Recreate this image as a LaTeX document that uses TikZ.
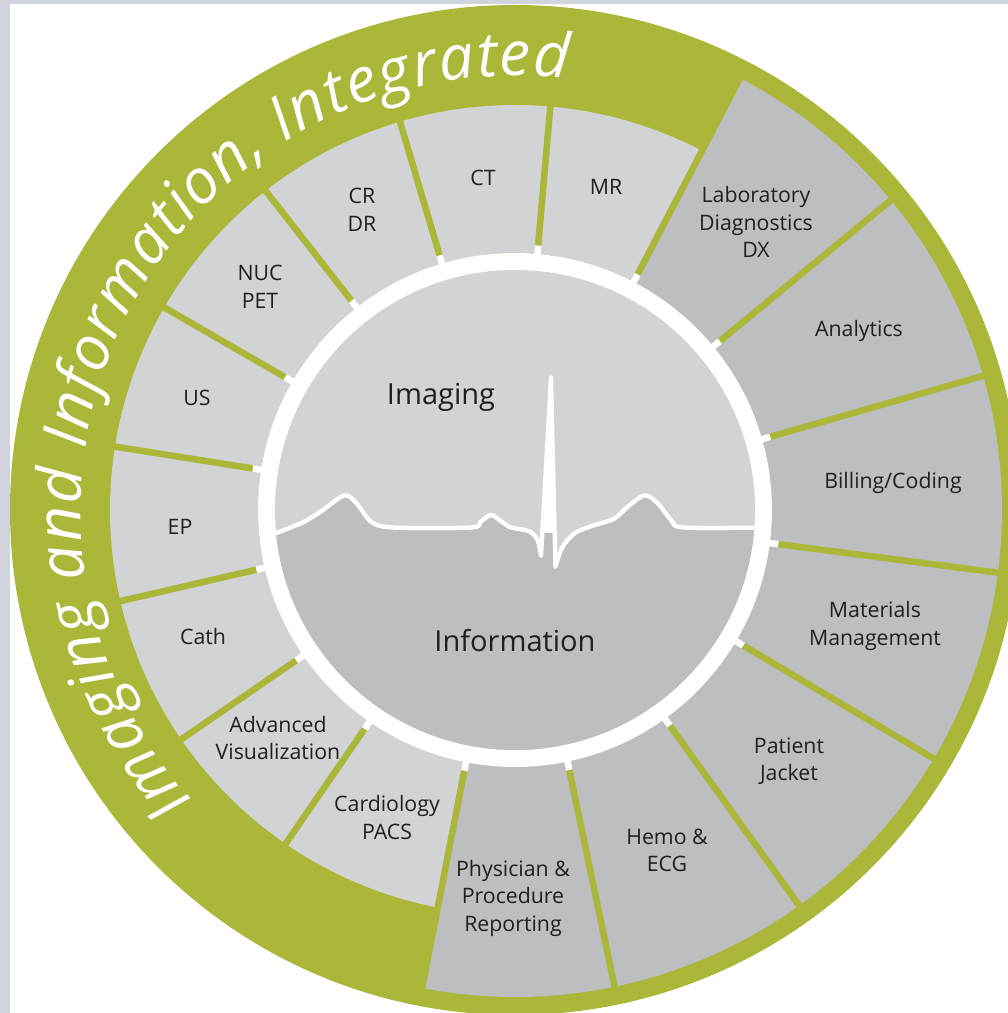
\documentclass[tikz,border=0pt]{standalone}
\usepackage{fontspec}
\setmainfont{Open Sans}
\usetikzlibrary{decorations.text}
\definecolor{grn}{RGB}{170,183,57}
\definecolor{lgray}{RGB}{209,211,212}
\definecolor{dgray}{RGB}{188,190,192}
\definecolor{strip}{RGB}{209,212,220}
\definecolor{txt}{RGB}{35,31,32}
\newcommand{\segm}[4]{\fill[#4] (#1:257) arc[start angle=#1, end angle=#2, radius=257] -- (#2:#3) arc[start angle=#2, end angle=#1, radius=#3] -- cycle;}
\begin{document}
\begin{tikzpicture}[x=1pt,y=1pt,
  lbl/.style={font=\fontsize{21.3}{27.5}\selectfont, text=txt, align=center, inner sep=0pt},
  big/.style={font=\fontsize{29}{34}\selectfont, text=txt, inner sep=0pt},
  divider/.style={grn, line width=6.5pt},
  tick/.style={white, line width=6.5pt},
  ecgline/.style={white, line width=4.3pt, line join=round}]
\useasboundingbox (0,0) rectangle (1008,1013);
\fill[strip] (0,0) rectangle (1008,1013);
\fill[white] (10,0) rectangle (1008,1009);
\begin{scope}
\clip (10,0) rectangle (1008,1009);
\begin{scope}[shift={(515,503)}]
\fill[grn] (0,0) circle[radius=505];
% imaging segments (light)
\segm{85}{106.5}{405}{lgray}
\segm{62.5}{85}{405}{lgray}
\segm{-124.5}{-101}{405}{lgray}
\segm{-145.5}{-124.5}{405}{lgray}
\segm{-167}{-145.5}{405}{lgray}
\segm{171}{193}{405}{lgray}
\segm{150}{171}{405}{lgray}
\segm{128}{150}{405}{lgray}
\segm{106.5}{128}{405}{lgray}
% information segments (dark)
\segm{39.5}{62.5}{487}{dgray}
\segm{16}{39.5}{487}{dgray}
\segm{-7.4}{16}{487}{dgray}
\segm{-30.7}{-7.4}{487}{dgray}
\segm{-54.3}{-30.7}{487}{dgray}
\segm{-78.2}{-54.3}{487}{dgray}
\segm{-101}{-78.2}{487}{dgray}
\foreach \a/\r in {106.5/408,85/408,62.5/490,39.5/490,16/490,-7.4/490,-30.7/490,-54.3/490,-78.2/490,-101/490,-124.5/408,-145.5/408,-167/408,171/408,150/408,128/408}{
  \draw[divider] (\a:265) -- (\a:\r);
  \draw[tick] (\a:252) -- (\a:265.5);
}
\fill[white] (0,0) circle[radius=257];
\fill[lgray] (0,0) circle[radius=240];
\path[decorate, decoration={text along path, text align={fit to path}, text color=white,
  text={|\itshape\fontsize{62}{66}\selectfont|Imaging and Information, Integrated}}]
  (222:434) arc[start angle=222, end angle=83, radius=434];
\end{scope}
\end{scope}
% ECG dividing the inner circle
\begin{scope}
\clip (515,503) circle[radius=240];
\fill[dgray] plot[smooth, tension=0.5] coordinates {(276.8,480.1) (303.6,491) (321,501.6) (344.6,517.6) (357,509) (371.4,491) (392.9,485.5) (471.4,485.5) (480.4,491) (491,498) (500,492.6) (510.7,485.5) (528.6,482) (537.5,473) (541,457)}
  -- (542.6,485.5) -- (554.5,485.5) -- (555.4,446.2)
  -- plot[smooth, tension=0.5] coordinates {(555.4,446.2) (562.5,466) (575,480) (592.9,487.3) (614.3,494.4) (628.6,507) (644.6,517.6) (657,510.5) (671.4,492.6) (684,485.5) (770,485.5)}
  -- (770,200) -- (230,200) -- (230,480.1) -- cycle;
\draw[ecgline] plot[smooth, tension=0.5] coordinates {(270,478) (276.8,480.1) (303.6,491) (321,501.6) (344.6,517.6) (357,509) (371.4,491) (392.9,485.5) (471.4,485.5) (480.4,491) (491,498) (500,492.6) (510.7,485.5) (528.6,482) (537.5,473) (541,457)}
  -- (551,635.5) -- (555.4,446.2)
  -- plot[smooth, tension=0.5] coordinates {(555.4,446.2) (562.5,466) (575,480) (592.9,487.3) (614.3,494.4) (628.6,507) (644.6,517.6) (657,510.5) (671.4,492.6) (684,485.5) (770,485.5)};
\fill[white] (541.5,480) -- (551,635.5) -- (555,480) -- cycle;
\end{scope}
% labels
\node[big] (imaging) at (441,616) {Imaging};
\node[big] (information) at (515,372) {Information};
\node[lbl] (ct) at (483,835) {CT};
\node[lbl] (mr) at (606,826) {MR};
\node[lbl] (lab) at (756,791) {Laboratory\\Diagnostics\\DX};
\node[lbl] (analytics) at (859,682) {Analytics};
\node[lbl] (billing) at (893,530) {Billing/Coding};
\node[lbl] (materials) at (875,387) {Materials\\Management};
\node[lbl] (patient) at (789,252) {Patient\\Jacket};
\node[lbl] (hemo) at (667,162.5) {Hemo \&\\ECG};
\node[lbl] (physician) at (513,115) {Physician \&\\Procedure\\Reporting};
\node[lbl] (cardio) at (387,195.5) {Cardiology\\PACS};
\node[lbl] (advvis) at (278,275) {Advanced\\Visualization};
\node[lbl] (cath) at (203,376) {Cath};
\node[lbl] (ep) at (180,486) {EP};
\node[lbl] (us) at (197,615) {US};
\node[lbl] (nuc) at (260,726) {NUC\\PET};
\node[lbl] (crdr) at (362,803) {CR\\DR};
\end{tikzpicture}
\end{document}
